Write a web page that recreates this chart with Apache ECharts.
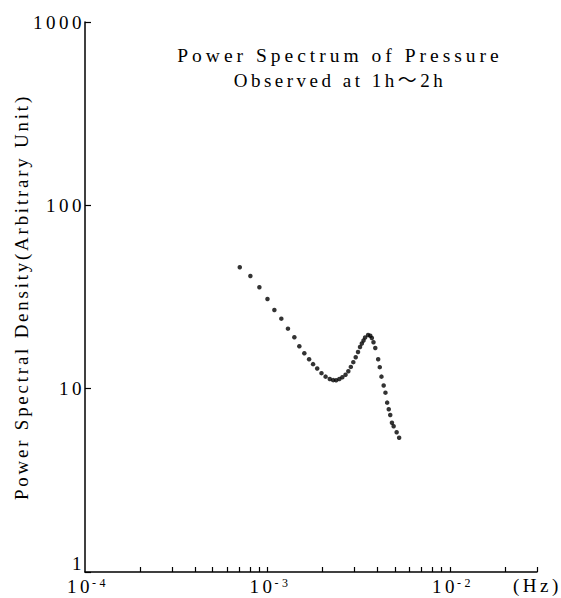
<!DOCTYPE html>
<html>
<head>
<meta charset="utf-8">
<script src="https://cdn.jsdelivr.net/npm/echarts@6/dist/echarts.min.js"></script>
<style>
  html, body { margin: 0; padding: 0; background: #fff; }
  #chart { width: 561px; height: 598px; }
  /* wide, Mincho-like tracking for the chart text */
  #chart svg text { letter-spacing: 3.5px; }
  /* first title line is set a little wider */
  #chart svg text[style*="19.5px"] { letter-spacing: 4px; }
  /* vertical axis name is set a little tighter */
  #chart svg text[style*="18.9px"] { letter-spacing: 2.8px; }
</style>
</head>
<body>
<div id="chart"></div>
<script>
// Title and axis names
const titleLines = ['Power Spectrum of Pressure', 'Observed at 1h\u301C2h'];
const xName = '(Hz)';
const yName = 'Power Spectral Density(Arbitrary Unit)';

// Spectrum estimates: frequency (Hz) and power spectral density (arbitrary unit)
const frequency = [
  7.05e-4, 8.06e-4, 9.03e-4, 1.000e-3, 1.091e-3, 1.191e-3, 1.295e-3, 1.404e-3,
  1.495e-3, 1.592e-3, 1.691e-3, 1.778e-3, 1.873e-3, 1.977e-3, 2.082e-3, 2.195e-3,
  2.291e-3, 2.379e-3, 2.477e-3, 2.572e-3, 2.678e-3, 2.774e-3, 2.863e-3, 2.954e-3,
  3.045e-3, 3.135e-3, 3.215e-3, 3.289e-3, 3.360e-3, 3.428e-3, 3.560e-3, 3.660e-3,
  3.734e-3, 3.811e-3, 3.898e-3, 4.043e-3, 4.125e-3, 4.214e-3, 4.333e-3, 4.432e-3,
  4.528e-3, 4.620e-3, 4.708e-3, 4.810e-3, 4.914e-3, 5.104e-3, 5.267e-3
];
const density = [
  45.96, 41.19, 35.74, 30.86, 26.88, 24.09, 21.25, 19.07,
  17.03, 15.60, 14.47, 13.61, 12.89, 12.15, 11.63, 11.30,
  11.13, 11.11, 11.30, 11.55, 11.91, 12.44, 13.14, 13.95,
  14.85, 15.86, 16.89, 17.65, 18.32, 19.03, 19.63, 19.44,
  18.91, 17.91, 16.67, 14.47, 13.10, 11.63, 10.41, 9.51,
  8.39, 7.72, 7.19, 6.52, 6.24, 5.78, 5.40
];

// Axis ranges and tick positions
const xRange = [1e-4, 3e-2];
const yRange = [1, 1000];
const xLabelValues = [1e-4, 1e-3, 1e-2];
const xTickValues = [
  2e-4, 3e-4, 4e-4, 5e-4, 6e-4, 7e-4, 8e-4, 9e-4,
  1e-3, 2e-3, 3e-3, 4e-3, 5e-3, 6e-3, 7e-3, 8e-3, 9e-3,
  1e-2, 2e-2, 3e-2
];
const yTickValues = [1, 10, 100, 1000];
const yTickLabels = ['1', '10', '100', '1000'];

const FONT = '"Liberation Serif", "Times New Roman", "Noto Sans CJK JP", serif';

const chart = echarts.init(document.getElementById('chart'), null, { renderer: 'svg' });

chart.setOption({
  animation: false,
  backgroundColor: '#fff',
  textStyle: { fontFamily: FONT, color: '#000' },
  grid: { left: 85, right: 24, top: 22, bottom: 26, containLabel: false, outerBoundsMode: 'none' },
  graphic: [{
    type: 'text',
    x: 340,
    y: 46,
    style: {
      text: titleLines[0],
      font: '19.5px ' + FONT,
      textAlign: 'center',
      fill: '#000'
    }
  }, {
    type: 'text',
    x: 340,
    y: 71,
    style: {
      text: titleLines[1],
      font: '19px ' + FONT,
      textAlign: 'center',
      fill: '#000'
    }
  }],
  xAxis: {
    type: 'log',
    logBase: 10,
    min: xRange[0],
    max: xRange[1],
    name: xName,
    nameLocation: 'end',
    nameGap: -24,
    nameTextStyle: { fontFamily: FONT, fontSize: 19, color: '#000', align: 'left', verticalAlign: 'top', padding: [4, 0, 0, 0] },
    axisLine: { lineStyle: { color: '#000', width: 1.5 } },
    axisTick: { inside: true, length: 5, customValues: xTickValues, lineStyle: { color: '#000', width: 1.2 } },
    minorTick: { show: false },
    splitLine: { show: false },
    axisLabel: {
      customValues: xLabelValues,
      margin: 5,
      color: '#000',
      formatter: function (v) {
        const e = Math.round(Math.log10(v));
        return '{b|10}{s|' + e + '}';
      },
      rich: {
        b: { fontFamily: FONT, fontSize: 19, color: '#000', padding: [0, 6, 0, 6], verticalAlign: 'bottom' },
        s: { fontFamily: FONT, fontSize: 12, color: '#000', verticalAlign: 'top', padding: [0, 0, 6, 0] }
      }
    }
  },
  yAxis: {
    type: 'log',
    logBase: 10,
    min: yRange[0],
    max: yRange[1],
    name: yName,
    nameLocation: 'middle',
    nameGap: 54,
    nameTextStyle: { fontFamily: FONT, fontSize: 18.9, color: '#000' },
    axisLine: { lineStyle: { color: '#000', width: 1.5 } },
    axisTick: { inside: true, length: 6, customValues: yTickValues, lineStyle: { color: '#000', width: 1.2 } },
    splitLine: { show: false },
    axisLabel: {
      customValues: yTickValues,
      margin: 0,
      fontFamily: FONT,
      fontSize: 19,
      color: '#000',
      formatter: function (v) {
        const i = yTickValues.findIndex(t => Math.abs(Math.log10(t) - Math.log10(v)) < 1e-6);
        if (i < 0) return '';
        // the bottom label sits just above the frequency axis labels
        return i === 0 ? '{low|' + yTickLabels[i] + '}' : yTickLabels[i];
      },
      rich: {
        low: { fontFamily: FONT, fontSize: 19, color: '#000', padding: [0, 0, 18, 0] }
      }
    }
  },
  series: [{
    type: 'scatter',
    silent: true,
    symbol: 'circle',
    symbolSize: 4.5,
    itemStyle: { color: '#000' },
    data: frequency.map((f, i) => [f, density[i]])
  }]
});
</script>
</body>
</html>
